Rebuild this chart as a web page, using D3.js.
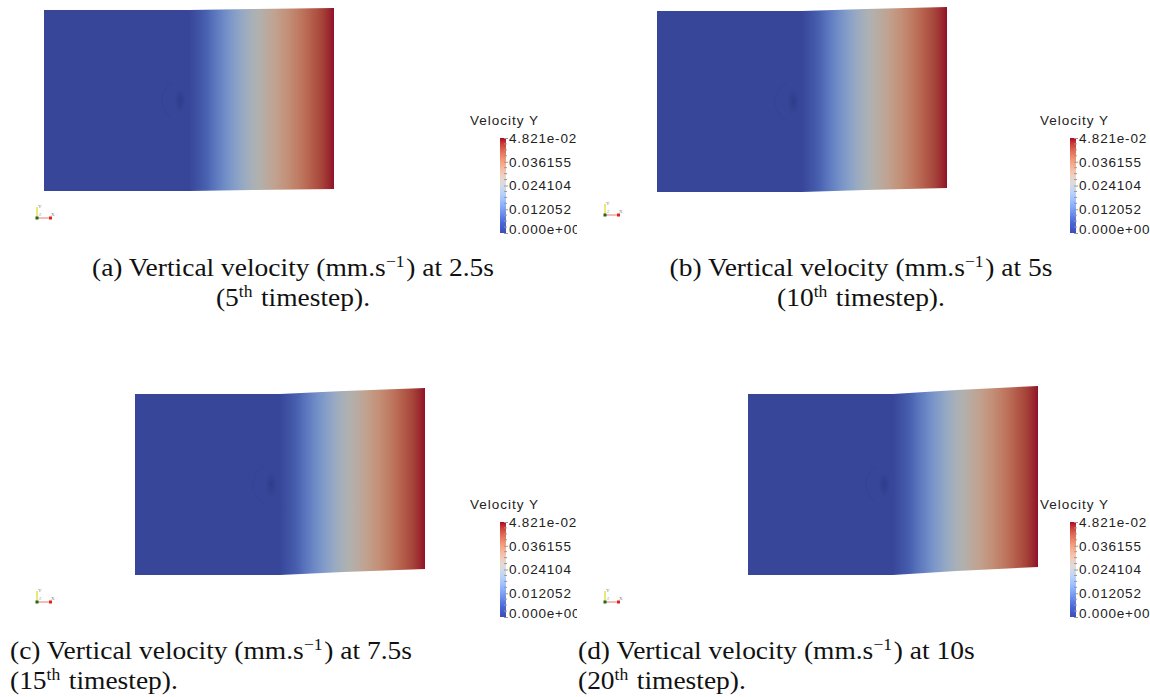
<!DOCTYPE html>
<html><head><meta charset="utf-8">
<script src="https://cdn.jsdelivr.net/npm/d3@7"></script>
<style>
body{margin:0;background:#fff}svg{display:block}
.cap{font-family:"Liberation Serif","Times New Roman",serif;white-space:pre;}
.sans{font-family:"Liberation Sans",Arial,Helvetica,sans-serif;}
</style>
</head><body>
<svg id="chart" width="1150" height="697"></svg>
<script>
// ---------------- DATA ----------------
const panelIds = ["a", "b", "c", "d"];
const times = [2.5, 5, 7.5, 10];            // s
const timesteps = ["5", "10", "15", "20"];
const timeLabels = ["2.5s", "5s", "7.5s", "10s"];
const specimenW = 17.5, specimenH = 10.9;    // mm
// vertical velocity profile along the specimen (normalised x -> mm/s)
const profileX = [0, 0.50, 0.61, 0.72, 0.86, 1.0];
const profileV = [0, 0, 0.012, 0.024, 0.036, 0.04821];
const vMax = 0.04821;
const colorbarTicks = [0, 0.012052, 0.024104, 0.036155, 0.04821];
const colorbarLabels = ["0.000e+00", "0.012052", "0.024104", "0.036155", "4.821e-02"];
const legendTitle = "Velocity Y";
// ParaView "Cool to Warm" colour map
const coolWarm = ["#3b4cc0","#445acc","#4d68d7","#6282ea","#779af7","#8db0fe","#a3c2ff","#b8d0f9","#ccd9ee","#dddddd","#ecd3c5","#f5c4ad","#f7b194","#f49a7b","#ec7f63","#de604d","#cb3e38","#b40426"];

// ---------------- SETUP ----------------
const svg = d3.select("#chart");
const defs = svg.append("defs");
const cmap = d3.scaleLinear()
  .domain(coolWarm.map((d, i) => i / (coolWarm.length - 1)))
  .range(coolWarm).interpolate(d3.interpolateRgb);
const vNorm = d3.scaleLinear().domain([0, vMax]).range([0, 1]).clamp(true);
const lit = c => { const r = d3.rgb(c); return d3.rgb(r.r * 0.74 + 12, r.g * 0.74 + 14, r.b * 0.74 + 12).formatHex(); };

const PW = 290, PH = 181;
const layout = [
  {px: 44,  py: 10,  lx: 470,  ly: 125, gx: 37,  gy: 218, cap: {x: 293, y: 276, anchor: "middle"}},
  {px: 657, py: 11,  lx: 1040, ly: 125, gx: 605, gy: 215, cap: {x: 861, y: 276, anchor: "middle"}},
  {px: 135, py: 394, lx: 470,  ly: 509, gx: 37,  gy: 602, cap: {x: 10,  y: 659, anchor: "start"}},
  {px: 748, py: 394, lx: 1040, ly: 509, gx: 605, gy: 602, cap: {x: 578, y: 659, anchor: "start"}}
];

// clip for left-column legends (cropped in original figure)
defs.append("clipPath").attr("id", "clipLeft").append("rect")
  .attr("x", 0).attr("y", 0).attr("width", 577).attr("height", 697);

// ---------------- PANELS ----------------
panelIds.forEach((id, i) => {
  const L = layout[i];
  const xs = d3.scaleLinear([0, specimenW], [L.px, L.px + PW]);
  const ys = d3.scaleLinear([0, specimenH], [L.py + PH, L.py]);
  const vAt = d3.scaleLinear(profileX.map(p => p * specimenW), profileV).clamp(true);
  const lift = x => vAt(x) * times[i]; // mm

  const gid = "grad" + id;
  const g = defs.append("linearGradient").attr("id", gid)
    .attr("gradientUnits", "userSpaceOnUse")
    .attr("x1", xs(0)).attr("x2", xs(specimenW)).attr("y1", 0).attr("y2", 0);
  d3.range(0, 1.0001, 0.02).forEach(t => {
    g.append("stop").attr("offset", t)
      .attr("stop-color", lit(cmap(vNorm(vAt(t * specimenW)))));
  });

  const topPts = profileX.map(p => [xs(p * specimenW), ys(specimenH + lift(p * specimenW))]);
  const botPts = profileX.map(p => [xs(p * specimenW), ys(lift(p * specimenW))]).reverse();
  const grp = svg.append("g");
  grp.append("path")
    .attr("d", d3.line()([...topPts, ...botPts]) + "Z")
    .attr("fill", `url(#${gid})`);

  // hole feature
  const hx = xs(0.47 * specimenW), hy = ys(0.5 * specimenH);
  const rg = defs.append("radialGradient").attr("id", "hole" + id);
  rg.append("stop").attr("offset", 0).attr("stop-color", "#27367f").attr("stop-opacity", 0.6);
  rg.append("stop").attr("offset", 1).attr("stop-color", "#27367f").attr("stop-opacity", 0);
  grp.append("ellipse").attr("cx", hx).attr("cy", hy).attr("rx", 6).attr("ry", 13)
    .attr("fill", `url(#hole${id})`);
  grp.append("path")
    .attr("d", d3.arc()({innerRadius: 20, outerRadius: 21, startAngle: -Math.PI * 0.85, endAngle: -Math.PI * 0.15}))
    .attr("transform", `translate(${hx + 2},${hy})`)
    .attr("fill", "#2f4090").attr("opacity", 0.3);

  // ---------------- LEGEND ----------------
  const lg = svg.append("g");
  if (L.lx < 577) lg.attr("clip-path", "url(#clipLeft)");
  const barX = L.lx + 30, barTop = L.ly + 13, barBot = barTop + 95, barW = 6;
  const ls = d3.scaleLinear([0, vMax], [barBot, barTop]);
  const lgid = "lgrad" + id;
  const lgd = defs.append("linearGradient").attr("id", lgid)
    .attr("gradientUnits", "userSpaceOnUse")
    .attr("x1", 0).attr("x2", 0).attr("y1", barBot).attr("y2", barTop);
  d3.range(0, 1.0001, 0.05).forEach(t => {
    lgd.append("stop").attr("offset", t).attr("stop-color", cmap(t));
  });
  lg.append("text").attr("class", "sans").attr("x", L.lx).attr("y", L.ly)
    .style("font-size", "13.5px").style("letter-spacing", "1px").attr("fill", "#222").text(legendTitle);
  lg.append("rect").attr("x", barX).attr("y", barTop).attr("width", barW).attr("height", barBot - barTop)
    .attr("fill", `url(#${lgid})`);
  const minor = [];
  for (let k = 0; k < colorbarTicks.length - 1; k++) {
    const a = colorbarTicks[k], b = colorbarTicks[k + 1];
    for (let m = 1; m < 4; m++) minor.push(a + (b - a) * m / 4);
  }
  lg.selectAll(".mn").data(minor).join("line")
    .attr("x1", barX + barW - 2).attr("x2", barX + barW + 1)
    .attr("y1", d => ls(d)).attr("y2", d => ls(d))
    .attr("stroke", "#999").attr("stroke-width", 1);
  const ax = d3.axisRight(ls).tickValues(colorbarTicks)
    .tickFormat((d, k) => colorbarLabels[k]).tickSize(4).tickPadding(1);
  const axg = lg.append("g").attr("transform", `translate(${barX + barW - 2},0)`).call(ax);
  axg.attr("font-family", null).attr("font-size", null);
  axg.select(".domain").remove();
  axg.selectAll(".tick line").attr("stroke", "#999");
  axg.selectAll(".tick text").attr("class", "sans")
    .style("font-size", "13.5px").style("letter-spacing", "0.8px").attr("fill", "#222")
    .attr("dy", (d, k) => k === 0 ? "0.0em" : "0.32em");

  // ---------------- ORIENTATION GLYPH ----------------
  const og = svg.append("g").attr("transform", `translate(${L.gx},${L.gy})`);
  og.append("line").attr("x1", 0).attr("y1", 0).attr("x2", 0).attr("y2", -11)
    .attr("stroke", "#e6e04a").attr("stroke-width", 1.5);
  og.append("line").attr("x1", 0).attr("y1", 0).attr("x2", 14).attr("y2", 0)
    .attr("stroke", "#f3a3a3").attr("stroke-width", 1.5);
  og.append("rect").attr("x", 12).attr("y", -1.5).attr("width", 3).attr("height", 3).attr("fill", "#d22");
  og.append("rect").attr("x", -1.5).attr("y", -1.5).attr("width", 3).attr("height", 3).attr("fill", "#1a6a1a");
  og.append("text").attr("x", 1).attr("y", -10).attr("font-size", 5).attr("fill", "#888").text("Y");
  og.append("text").attr("x", 14).attr("y", -2).attr("font-size", 5).attr("fill", "#888").text("X");
  og.append("text").attr("x", 2).attr("y", -2).attr("font-size", 4).attr("fill", "#aaa").text("Z");
});

// ---------------- CAPTIONS ----------------
// each segment is its own text element, placed one after another
function writeLine(g, parts) {
  let cx = 0;
  parts.forEach(p => {
    const t = g.append("text").attr("class", "cap").attr("fill", "#111")
      .style("font-size", p.sup ? "16px" : "25px")
      .attr("x", cx).attr("y", p.sup ? -9 : 0).text(p.t);
    cx += t.node().getComputedTextLength() + (p.sup ? 1.5 : 0);
  });
  return cx;
}
const capLines = [];
panelIds.forEach((id, i) => {
  const C = layout[i].cap;
  const g1 = svg.append("g"), g2 = svg.append("g");
  const w1 = writeLine(g1, [{t: `(${id}) Vertical velocity (mm.s`}, {t: "\u22121", sup: true}, {t: `) at ${timeLabels[i]}`}]);
  const w2 = writeLine(g2, [{t: `(${timesteps[i]}`}, {t: "th", sup: true}, {t: "\u00A0timestep)."}]);
  capLines.push({g: g1, w: w1, C, dy: 0}, {g: g2, w: w2, C, dy: 29.5});
});
// horizontal scale so that caption (a) line 1 matches the reference width (~402 px)
const sx = 402 / capLines[0].w;
capLines.forEach(({g, w, C, dy}) => {
  const x0 = C.anchor === "middle" ? C.x - w * sx / 2 : C.x;
  g.attr("transform", `translate(${x0},${C.y + dy}) scale(${sx},1)`);
});
</script>
</body></html>
